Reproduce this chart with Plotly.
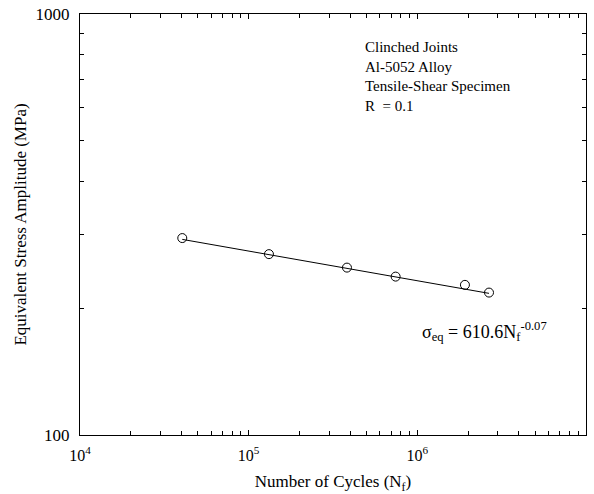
import plotly.graph_objects as go

cycles = [40400, 131900, 382600, 743600, 1915000, 2660000]
stress = [293.6, 268.9, 249.8, 237.8, 227.3, 217.9]
fit_cycles = [40400, 2660000]
fit_stress = [291.5, 217.0]

x_tickvals = [1e4, 1e5, 1e6, 1e7]
x_ticktext = ["10<sup>4</sup>", "10<sup>5</sup>", "10<sup>6</sup>", "10<sup>7</sup>"]
x_minor = [m * 10**e for e in range(4, 7) for m in range(2, 10)]
y_tickvals = [100, 1000]
y_ticktext = ["100", "1000"]
y_minor = [m * 100 for m in range(2, 10)]

info_lines = ["Clinched Joints", "Al-5052 Alloy", "Tensile-Shear Specimen", "R\u00a0 = 0.1"]
equation = "σ<sub>eq</sub> = 610.6N<sub>f</sub><sup>-0.07</sup>"

FONT = "Liberation Serif, Times New Roman, serif"

fig = go.Figure()
fig.add_trace(go.Scatter(x=fit_cycles, y=fit_stress, mode="lines",
                         line=dict(color="black", width=1), showlegend=False))
fig.add_trace(go.Scatter(x=cycles, y=stress, mode="markers",
                         marker=dict(symbol="circle-open", size=9, color="black",
                                     line=dict(width=1, color="black")),
                         showlegend=False))

axis_common = dict(showline=True, linecolor="black", linewidth=1, mirror="ticks",
                   ticks="inside", ticklen=5, tickcolor="black", tickwidth=1,
                   showgrid=False, zeroline=False, automargin=False)

fig.update_xaxes(type="log", range=[4, 7], tickmode="array", tickvals=x_tickvals,
                 ticktext=x_ticktext, ticklabelstandoff=6,
                 tickfont=dict(family=FONT, size=16, color="black"),
                 minor=dict(tickmode="array", tickvals=x_minor, ticks="inside",
                            ticklen=4, tickcolor="black", tickwidth=1, showgrid=False),
                 title=dict(text="Number of Cycles (N<sub>f</sub>)",
                            font=dict(family=FONT, size=17, color="black"), standoff=16),
                 **axis_common)
fig.update_yaxes(type="log", range=[2, 3], tickmode="array", tickvals=y_tickvals,
                 ticktext=y_ticktext, ticklabelstandoff=6,
                 tickfont=dict(family=FONT, size=17, color="black"),
                 minor=dict(tickmode="array", tickvals=y_minor, ticks="inside",
                            ticklen=4, tickcolor="black", tickwidth=1, showgrid=False),
                 title=dict(text="Equivalent Stress Amplitude (MPa)",
                            font=dict(family=FONT, size=17, color="black"), standoff=4),
                 **axis_common)

fig.add_annotation(text="<br>".join(info_lines), xref="paper", yref="paper",
                   x=0.56, y=0.945, xanchor="left", yanchor="top", align="left",
                   showarrow=False, font=dict(family=FONT, size=15, color="black"))

fig.add_annotation(text=equation, xref="paper", yref="paper", x=0.672, y=0.245,
                   xanchor="left", yanchor="middle", showarrow=False,
                   font=dict(family=FONT, size=18, color="black"))

fig.update_layout(width=594, height=494, margin=dict(l=80, r=8, t=14, b=59),
                  paper_bgcolor="white", plot_bgcolor="white",
                  font=dict(family=FONT, color="black"))

fig.write_html("out.html")
